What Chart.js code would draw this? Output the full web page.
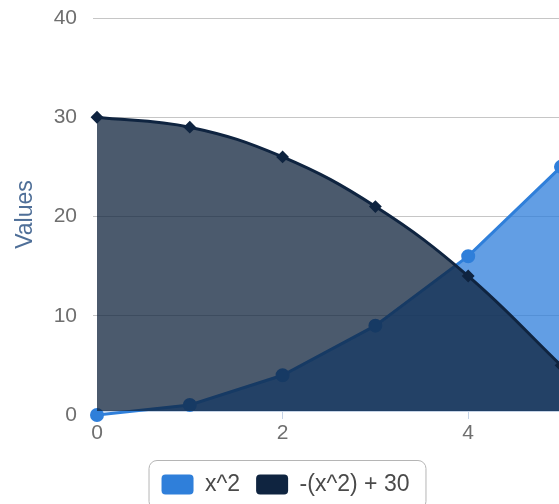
<!DOCTYPE html>
<html lang="en">
  <head>
    <meta charset="UTF-8" />
    <title>x^2 vs -(x^2) + 30</title>
    <style>
      body {
        margin: 0;
        padding: 0;
        background: #fff;
        overflow: hidden;
      }
      .chart-container {
        position: relative;
        width: 575px;
        height: 506px;
      }
    </style>
  </head>
  <body>
    <div class="chart-container">
      <canvas id="areaChart"></canvas>
    </div>

    <script src="https://cdn.jsdelivr.net/npm/chart.js"></script>
    <script>
        // data
        const xValues = [0, 1, 2, 3, 4, 5];
        const squareValues = [0, 1, 4, 9, 16, 25];
        const invertedValues = [30, 29, 26, 21, 14, 5];
        const seriesLabels = ['x^2', '-(x^2) + 30'];
        const xTickValues = [0, 2, 4];
        const yTickValues = [0, 10, 20, 30, 40];

        const blue = '#2f7fda';
        const navy = '#0f2440';
        const fontFamily = '"Liberation Sans", Arial, sans-serif';

        const toPoints = values => values.map((v, i) => ({ x: xValues[i], y: v }));

        // rounded frame around the legend
        const legendFrame = {
            id: 'legendFrame',
            afterDraw(chart) {
                const boxes = chart.legend.legendHitBoxes;
                if (!boxes || !boxes.length) return;
                const left = Math.min(...boxes.map(b => b.left)) - 13;
                const right = Math.max(...boxes.map(b => b.left + b.width)) + 16;
                const top = Math.min(...boxes.map(b => b.top)) - 13;
                const bottom = Math.max(...boxes.map(b => b.top + b.height)) + 13;
                const ctx = chart.ctx;
                ctx.save();
                ctx.strokeStyle = '#b5b5b5';
                ctx.lineWidth = 1;
                ctx.beginPath();
                ctx.roundRect(left + 0.5, top + 0.5, right - left, bottom - top, 8);
                ctx.stroke();
                ctx.restore();
            }
        };

        const ctx = document.getElementById('areaChart').getContext('2d');
        const areaChart = new Chart(ctx, {
            type: 'line',
            data: {
                datasets: [{
                    label: seriesLabels[0],
                    data: toPoints(squareValues),
                    order: 1,
                    clip: { left: 10, top: 10, right: 10, bottom: 12 },
                    borderColor: blue,
                    backgroundColor: 'rgba(45, 125, 219, 0.75)',
                    borderWidth: 3,
                    pointRadius: 6,
                    pointBorderWidth: 2,
                    pointBackgroundColor: blue,
                    pointBorderColor: blue,
                    fill: 'origin',
                    tension: 0
                }, {
                    label: seriesLabels[1],
                    data: toPoints(invertedValues),
                    order: 0,
                    clip: { left: 10, top: 10, right: 10, bottom: 0 },
                    borderColor: navy,
                    backgroundColor: 'rgba(15, 35, 60, 0.75)',
                    borderWidth: 3,
                    pointStyle: 'rectRot',
                    pointRadius: 5,
                    pointBorderWidth: 2,
                    pointBackgroundColor: navy,
                    pointBorderColor: navy,
                    fill: 'origin',
                    tension: 0.4
                }]
            },
            options: {
                responsive: true,
                maintainAspectRatio: false,
                animation: false,
                events: [],
                layout: {
                    padding: { top: 18, right: 14, bottom: 0, left: 10 }
                },
                scales: {
                    x: {
                        type: 'linear',
                        min: 0,
                        max: 5,
                        afterBuildTicks: scale => {
                            scale.ticks = xTickValues.map(v => ({ value: v }));
                        },
                        afterFit: scale => { scale.height = 46; },
                        grid: {
                            drawOnChartArea: false,
                            tickLength: 8,
                            color: '#c5d3e6'
                        },
                        border: { color: '#c5d3e6', width: 2 },
                        ticks: {
                            padding: 2,
                            color: '#6f6f6f',
                            font: { family: fontFamily, size: 21 }
                        }
                    },
                    y: {
                        min: 0.4,
                        max: 40,
                        afterBuildTicks: scale => {
                            scale.ticks = yTickValues.map(v => ({ value: v }));
                        },
                        afterFit: scale => {
                            scale.width = 87;
                            scale.paddingTop = 0;
                            scale.paddingBottom = 0;
                        },
                        grid: {
                            tickLength: 4,
                            color: ctx => ctx.tick && ctx.tick.value === 0 ? 'rgba(0,0,0,0)' : '#c6c6c6'
                        },
                        border: { display: false },
                        ticks: {
                            padding: 16,
                            color: '#6f6f6f',
                            font: { family: fontFamily, size: 21 }
                        },
                        title: {
                            display: true,
                            text: 'Values',
                            color: '#4f6f98',
                            padding: { top: 2, bottom: 0 },
                            font: { family: fontFamily, size: 23 }
                        }
                    }
                },
                plugins: {
                    tooltip: { enabled: false },
                    legend: {
                        position: 'bottom',
                        labels: {
                            padding: 16,
                            boxWidth: 32,
                            boxHeight: 20,
                            useBorderRadius: true,
                            borderRadius: 4,
                            color: '#4a4a4a',
                            font: { family: fontFamily, size: 23 },
                            sort: (a, b) => a.datasetIndex - b.datasetIndex,
                            generateLabels: chart => {
                                const items = Chart.defaults.plugins.legend.labels.generateLabels(chart);
                                return items.map(item => {
                                    const color = item.datasetIndex === 0 ? blue : navy;
                                    item.fillStyle = color;
                                    item.strokeStyle = color;
                                    item.lineWidth = 0;
                                    return item;
                                });
                            }
                        }
                    }
                }
            },
            plugins: [legendFrame]
        });
    </script>
  </body>
</html>
